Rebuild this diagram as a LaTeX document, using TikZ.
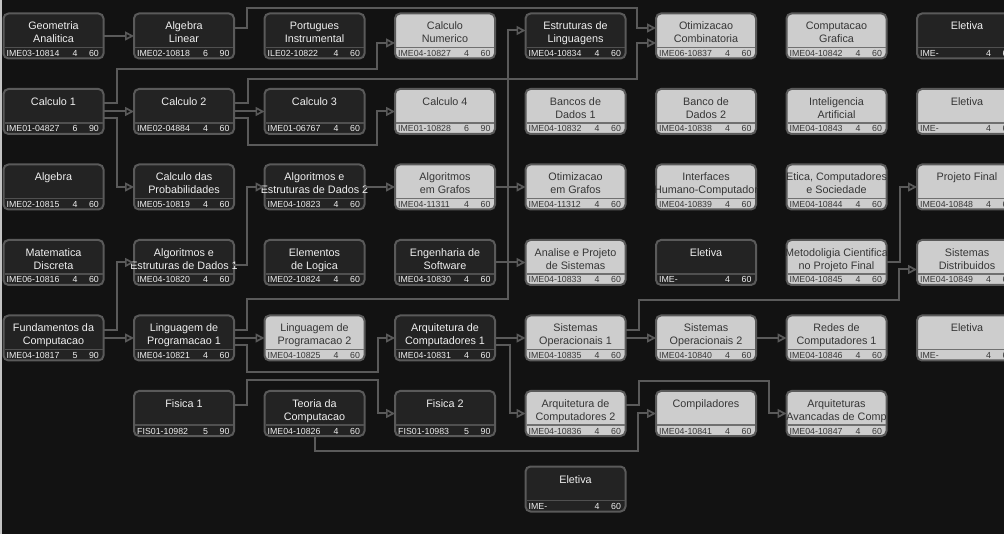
\documentclass[tikz,border=0pt]{standalone}
\usepackage{fontspec}
\setmainfont{Liberation Sans}
\usetikzlibrary{calc,arrows.meta}
\definecolor{bgc}{HTML}{121212}
\definecolor{stripc}{HTML}{C4C4C4}
\definecolor{dkfill}{HTML}{232323}
\definecolor{ltfill}{HTML}{CDCDCD}
\definecolor{edgec}{HTML}{5A5A5A}
\definecolor{dktext}{HTML}{F0F0F0}
\definecolor{lttext}{HTML}{363636}
\definecolor{sepdkc}{HTML}{505050}
\definecolor{sepltc}{HTML}{707070}
\tikzset{
  coursebox/.style={draw=edgec, line width=2pt, rounded corners=5pt,
    minimum width=100pt, minimum height=45pt, inner sep=0pt, outer sep=0pt},
  dk/.style={coursebox, fill=dkfill},
  lt/.style={coursebox, fill=ltfill},
  sepdk/.style={draw=sepdkc, line width=1.4pt},
  seplt/.style={draw=sepltc, line width=1.4pt},
  ttldk/.style={anchor=base, inner sep=0pt, text=dktext, font=\fontsize{10.8}{13}\selectfont},
  ttllt/.style={anchor=base, inner sep=0pt, text=lttext, font=\fontsize{10.8}{13}\selectfont},
  ftrdk/.style={anchor=base, inner sep=0pt, text=dktext, font=\fontsize{8.8}{10}\selectfont},
  ftrlt/.style={anchor=base, inner sep=0pt, text=lttext, font=\fontsize{8.8}{10}\selectfont},
  conn/.style={draw=edgec, line width=2pt,
    -{Triangle[open, length=9pt, width=9pt, line width=1.7pt]}},
}
\newcommand\course[9]{%
  \node[#4] (#1) at ({53.5+130.5*#2},{36+75.5*#3}) {};
  \draw[sep#4] ($(#1.south west)+(1,-11)$) -- ($(#1.south east)+(-1,-11)$);
  \node[ttl#4] at ($(#1.north)+(0,16.5)$) {#5};
  \node[ttl#4] at ($(#1.north)+(0,29.5)$) {#6};
  \node[ftr#4, anchor=base west] at ($(#1.south west)+(3,-2)$) {#7};
  \node[ftr#4] at ($(#1.south west)+(71.5,-2)$) {#8};
  \node[ftr#4] at ($(#1.south west)+(90.5,-2)$) {#9};
}
\begin{document}
\begin{tikzpicture}[x=1pt,y=-1pt]
\useasboundingbox (0,0) rectangle (1004,534);
\fill[bgc] (0,0) rectangle (1004,534);
\fill[stripc] (0,0) rectangle (2,534);
% row 0
\course{ga}{0}{0}{dk}{Geometria}{Analitica}{IME03-10814}{4}{60}
\course{al}{1}{0}{dk}{Algebra}{Linear}{IME02-10818}{6}{90}
\course{pi}{2}{0}{dk}{Portugues}{Instrumental}{ILE02-10822}{4}{60}
\course{cn}{3}{0}{lt}{Calculo}{Numerico}{IME04-10827}{4}{60}
\course{el}{4}{0}{dk}{Estruturas de}{Linguagens}{IME04-10834}{4}{60}
\course{oc}{5}{0}{lt}{Otimizacao}{Combinatoria}{IME06-10837}{4}{60}
\course{cg}{6}{0}{lt}{Computacao}{Grafica}{IME04-10842}{4}{60}
\course{ea}{7}{0}{dk}{Eletiva}{}{IME-}{4}{60}
% row 1
\course{ca1}{0}{1}{dk}{Calculo 1}{}{IME01-04827}{6}{90}
\course{ca2}{1}{1}{dk}{Calculo 2}{}{IME02-04884}{4}{60}
\course{ca3}{2}{1}{dk}{Calculo 3}{}{IME01-06767}{4}{60}
\course{ca4}{3}{1}{lt}{Calculo 4}{}{IME01-10828}{6}{90}
\course{bd1}{4}{1}{lt}{Bancos de}{Dados 1}{IME04-10832}{4}{60}
\course{bd2}{5}{1}{lt}{Banco de}{Dados 2}{IME04-10838}{4}{60}
\course{ia}{6}{1}{lt}{Inteligencia}{Artificial}{IME04-10843}{4}{60}
\course{eb}{7}{1}{lt}{Eletiva}{}{IME-}{4}{60}
% row 2
\course{alg}{0}{2}{dk}{Algebra}{}{IME02-10815}{4}{60}
\course{cp}{1}{2}{dk}{Calculo das}{Probabilidades}{IME05-10819}{4}{60}
\course{aedb}{2}{2}{dk}{Algoritmos e}{Estruturas de Dados 2}{IME04-10823}{4}{60}
\course{ag}{3}{2}{lt}{Algoritmos}{em Grafos}{IME04-11311}{4}{60}
\course{og}{4}{2}{lt}{Otimizacao}{em Grafos}{IME04-11312}{4}{60}
\course{ihc}{5}{2}{lt}{Interfaces}{Humano-Computador}{IME04-10839}{4}{60}
\course{ecs}{6}{2}{lt}{Etica, Computadores}{e Sociedade}{IME04-10844}{4}{60}
\course{pf}{7}{2}{lt}{Projeto Final}{}{IME04-10848}{4}{60}
% row 3
\course{md}{0}{3}{dk}{Matematica}{Discreta}{IME06-10816}{4}{60}
\course{aeda}{1}{3}{dk}{Algoritmos e}{Estruturas de Dados 1}{IME04-10820}{4}{60}
\course{elo}{2}{3}{dk}{Elementos}{de Logica}{IME02-10824}{4}{60}
\course{es}{3}{3}{dk}{Engenharia de}{Software}{IME04-10830}{4}{60}
\course{aps}{4}{3}{lt}{Analise e Projeto}{de Sistemas}{IME04-10833}{4}{60}
\course{ec}{5}{3}{dk}{Eletiva}{}{IME-}{4}{60}
\course{mc}{6}{3}{lt}{Metodoligia Cientifica}{no Projeto Final}{IME04-10845}{4}{60}
\course{sd}{7}{3}{lt}{Sistemas}{Distribuidos}{IME04-10849}{4}{60}
% row 4
\course{fc}{0}{4}{dk}{Fundamentos da}{Computacao}{IME04-10817}{5}{90}
\course{lpa}{1}{4}{dk}{Linguagem de}{Programacao 1}{IME04-10821}{4}{60}
\course{lpb}{2}{4}{lt}{Linguagem de}{Programacao 2}{IME04-10825}{4}{60}
\course{aca}{3}{4}{dk}{Arquitetura de}{Computadores 1}{IME04-10831}{4}{60}
\course{soa}{4}{4}{lt}{Sistemas}{Operacionais 1}{IME04-10835}{4}{60}
\course{sob}{5}{4}{lt}{Sistemas}{Operacionais 2}{IME04-10840}{4}{60}
\course{rc}{6}{4}{lt}{Redes de}{Computadores 1}{IME04-10846}{4}{60}
\course{ed}{7}{4}{lt}{Eletiva}{}{IME-}{4}{60}
% row 5
\course{fa}{1}{5}{dk}{Fisica 1}{}{FIS01-10982}{5}{90}
\course{tc}{2}{5}{dk}{Teoria da}{Computacao}{IME04-10826}{4}{60}
\course{fb}{3}{5}{dk}{Fisica 2}{}{FIS01-10983}{5}{90}
\course{acb}{4}{5}{lt}{Arquitetura de}{Computadores 2}{IME04-10836}{4}{60}
\course{comp}{5}{5}{lt}{Compiladores}{}{IME04-10841}{4}{60}
\course{aac}{6}{5}{lt}{Arquiteturas}{Avancadas de Comp}{IME04-10847}{4}{60}
% row 6
\course{ee}{4}{6}{dk}{Eletiva}{}{IME-}{4}{60}
% connectors
\draw[conn] (ga.east) -- (al.west);
\draw[conn] ($(al.east)+(0,-8)$) -| (247,8) -| (637,28) -- ($(oc.west)+(0,-8)$);
\draw[conn] ($(ca1.east)+(0,-8)$) -| (117,69) -| (377,43) -- ($(cn.west)+(0,7)$);
\draw[conn] (ca1.east) -- (ca2.west);
\draw[conn] ($(ca1.east)+(0,7)$) -| (117,187) -- (cp.west);
\draw[conn] (ca2.east) -- (ca3.west);
\draw[conn] ($(ca2.east)+(0,-8)$) -| (248,79) -| (637,43) -- ($(oc.west)+(0,7)$);
\draw[conn] ($(ca2.east)+(0,7)$) -| (248,145) -| (377,111.5) -- (ca4.west);
\draw[conn] ($(aeda.east)+(0,3)$) -| (247,187) -- (aedb.west);
\draw[conn] (aedb.east) -- (ag.west);
\draw[conn] (ag.east) -- (og.west);
\draw[conn] (es.east) -- (aps.west);
\draw[conn] ($(fc.east)+(0,-8)$) -| (117,262.5) -- (aeda.west);
\draw[conn] (fc.east) -- (lpa.west);
\draw[conn] ($(lpa.east)+(0,-8)$) -| (247,299) -| (508,30.5) -- ($(el.west)+(0,-5.5)$);
\draw[conn] (lpa.east) -- (lpb.west);
\draw[conn] ($(lpa.east)+(0,7)$) -| (247,372) -| (378,338) -- (aca.west);
\draw[conn] ($(fa.east)+(0,-8)$) -| (247,380) -| (378,413.5) -- (fb.west);
\draw[conn] (tc.south) -- ++(0,15) -| (638,413.5) -- (comp.west);
\draw[conn] (aca.east) -- (soa.west);
\draw[conn] ($(aca.east)+(0,7)$) -| (510,413.5) -- (acb.west);
\draw[conn] ($(soa.east)+(0,-8)$) -| (639,300) -| (899,269.5) -- ($(sd.west)+(0,7)$);
\draw[conn] (soa.east) -- (sob.west);
\draw[conn] (sob.east) -- (rc.west);
\draw[conn] (mc.east) -| (900,187) -- (pf.west);
\draw[conn] ($(acb.east)+(0,-8)$) -| (639,381) -| (769,413.5) -- (aac.west);
\end{tikzpicture}
\end{document}
